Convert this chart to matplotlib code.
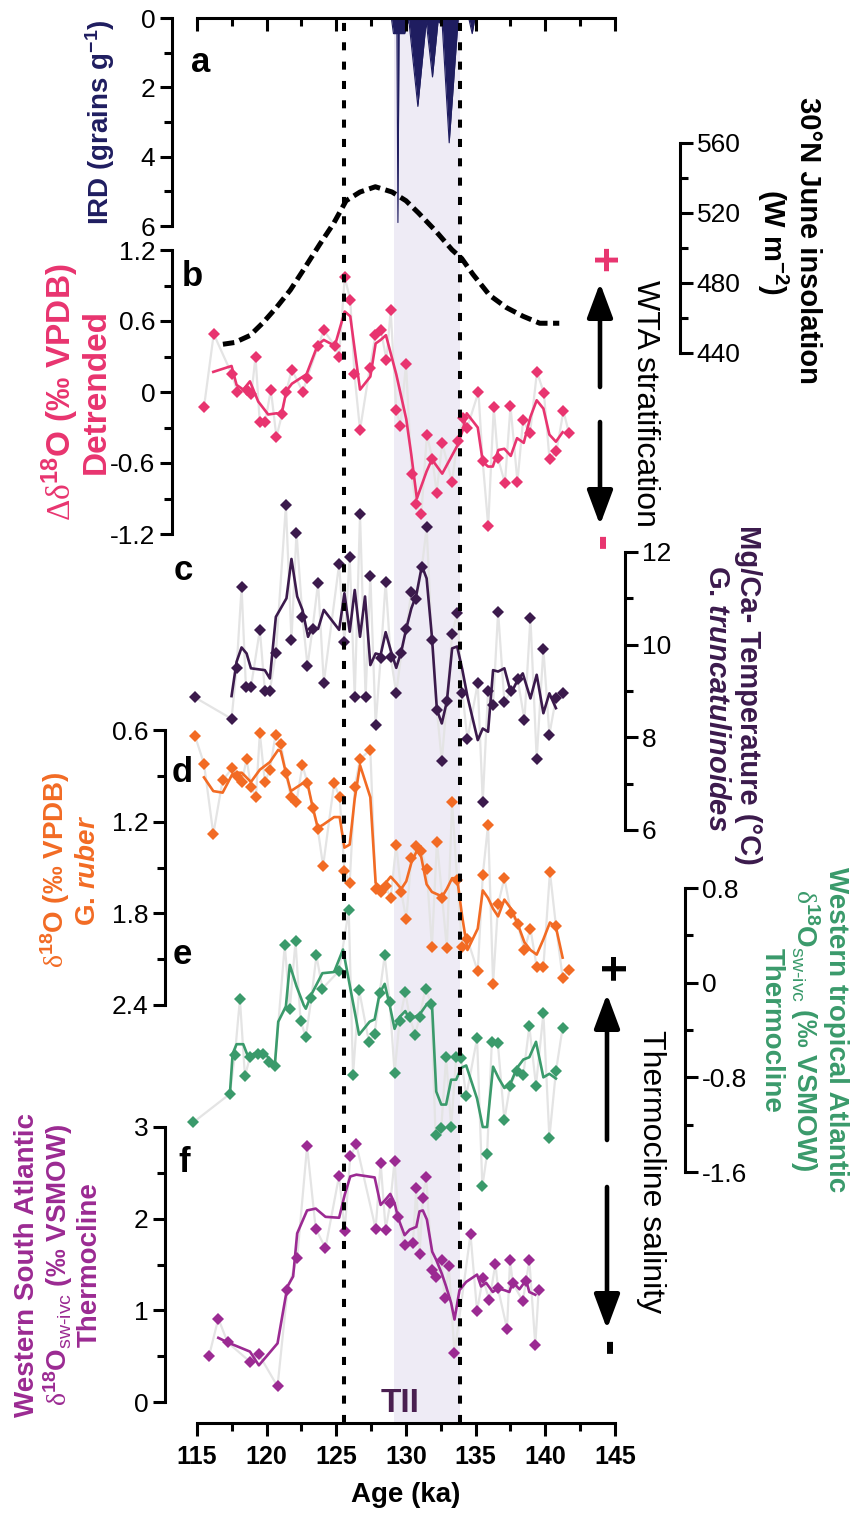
"""
Termination II multi-proxy stack (115-145 ka).

Panels a-f share one age axis. Every record gets its own transparent overlay
axes so its y scale can sit at its own height and on its own side.
"""

import matplotlib
matplotlib.use("Agg")
import matplotlib.pyplot as plt
from matplotlib.patches import FancyArrowPatch

plt.rcParams["font.family"] = ["Liberation Sans", "DejaVu Sans"]
plt.rcParams["mathtext.fontset"] = "custom"
plt.rcParams["mathtext.rm"] = "Liberation Sans"
plt.rcParams["mathtext.sf"] = "Liberation Serif"   # thin greek like the original
plt.rcParams["mathtext.it"] = "Liberation Sans:italic:bold"
plt.rcParams["mathtext.bf"] = "Liberation Sans:bold"
plt.rcParams["mathtext.default"] = "regular"
plt.rcParams["axes.unicode_minus"] = False

# ------------------------------------------------------------------ data

# a - IRD (grains g-1)
ird_age = [128.95, 129.1, 129.35, 129.42, 129.5, 129.9, 130.2, 130.85, 131.45,
           131.9, 132.3, 132.6, 133.1, 133.75, 134.5, 134.75, 134.95]
ird_val = [0, 0.45, 0.45, 5.9, 0.45, 0.45, 0.05, 2.55, 0.1,
           1.7, 0.1, 0.2, 3.6, 0.0, 0, 0.45, 0]

# 30N June insolation (W m-2)
ins_age = [116.86, 117.7, 118.8, 119.7, 120.7, 121.7, 122.6, 123.8, 124.8, 125.7,
           126.7, 127.8, 129.0, 130.0, 130.9, 132.1, 133.3, 134.0, 134.8, 136.0,
           137.2, 138.4, 139.6, 141.0]
ins_val = [445, 446, 450, 457, 466, 476, 487, 502, 514, 527,
           532, 535, 532, 527, 520, 510, 499, 494, 485, 473,
           466, 461, 457, 457]

# b - delta d18O detrended (per mil VPDB)
b_age = [115.5, 116.2, 117.5, 117.9, 118.6, 118.9, 119.2, 119.5, 119.9, 120.3,
         120.7, 121.1, 121.4, 121.8, 122.6, 122.9, 123.7, 124.1, 124.9, 125.2,
         125.6, 126.0, 126.3, 126.7, 127.4, 127.8, 128.2, 128.6, 128.9, 129.3,
         129.6, 130.0, 130.4, 130.7, 131.1, 131.5, 131.9, 132.2, 132.6, 133.3,
         133.7, 134.1, 134.4, 135.2, 135.5, 135.9, 136.3, 136.6, 137.1, 137.5,
         138.0, 138.4, 138.9, 139.4, 139.9, 140.3, 140.8, 141.3, 141.7]
b_val = [-0.13, 0.49, 0.15, 0.0, 0.02, -0.02, 0.30, -0.25, -0.25, 0.02,
         -0.38, -0.19, 0.0, 0.19, 0.0, 0.12, 0.39, 0.52, 0.39, 0.30,
         0.97, 0.78, 0.15, -0.32, 0.20, 0.48, 0.52, 0.27, 0.69, -0.15,
         -0.29, 0.24, -0.69, -0.95, -1.03, -0.36, -0.57, -0.85, -0.43, -0.76,
         -0.41, -0.22, -0.30, 0.0, -0.58, -1.13, -0.13, -0.56, -0.77, -0.12,
         -0.76, -0.24, -0.35, 0.17, -0.01, -0.57, -0.50, -0.16, -0.35]
b_sm_age = [116.17, 117.48, 117.84, 118.32, 118.8, 119.39, 120.11, 120.71, 121.06, 121.42,
            121.81, 122.86, 123.67, 124.1, 124.89, 125.6, 126.0, 126.7, 127.44, 127.82,
            128.18, 128.56, 129.3, 130.02, 130.38, 130.78, 131.48, 131.86, 132.6, 133.7,
            134.05, 134.36, 135.15, 135.51, 135.89, 136.23, 136.63, 137.06, 137.52, 137.97,
            138.45, 138.93, 139.38, 139.86, 140.29, 140.76, 141.24]
b_sm_val = [0.17, 0.22, 0.06, 0.02, 0.09, -0.08, -0.19, -0.18, -0.19, 0.01,
            0.07, 0.15, 0.40, 0.44, 0.39, 0.68, 0.64, 0.02, 0.13, 0.41,
            0.44, 0.48, 0.15, -0.23, -0.53, -0.90, -0.67, -0.57, -0.69, -0.45,
            -0.33, -0.18, -0.30, -0.59, -0.63, -0.63, -0.49, -0.48, -0.54, -0.39,
            -0.43, -0.21, -0.07, -0.14, -0.36, -0.42, -0.34]

# c - Mg/Ca temperature, G. truncatulinoides (degC)
c_age = [114.86, 117.48, 117.84, 118.2, 118.51, 118.87, 119.51, 119.87, 120.23, 120.66,
         121.38, 121.78, 122.14, 122.57, 122.93, 123.29, 123.69, 124.1, 125.2, 125.58,
         125.96, 126.32, 126.7, 127.1, 127.44, 127.82, 128.18, 128.54, 128.9, 129.3,
         129.66, 130.02, 130.38, 130.74, 131.14, 131.48, 131.86, 132.22, 132.57, 132.93,
         133.31, 133.67, 134.05, 134.41, 135.15, 135.51, 135.89, 136.25, 136.61, 137.06,
         137.54, 138.02, 138.5, 138.93, 139.38, 139.86, 140.29, 140.76, 141.24]
c_val = [8.86, 8.40, 9.49, 11.24, 9.08, 9.08, 10.32, 9.01, 9.01, 9.81,
         13.01, 10.10, 12.42, 10.60, 9.54, 10.34, 11.34, 9.18, 11.74, 10.05,
         11.9, 8.86, 12.81, 8.86, 11.49, 8.27, 9.71, 11.36, 9.74, 8.95,
         9.81, 10.34, 11.14, 10.98, 11.67, 12.53, 10.09, 8.58, 7.49, 8.79,
         10.23, 10.68, 8.95, 7.96, 9.17, 6.61, 9.01, 8.70, 10.71, 8.77,
         8.99, 9.25, 8.37, 10.58, 7.53, 9.91, 8.06, 8.84, 8.95]
c_sm_age = [117.48, 117.84, 118.2, 118.56, 118.87, 119.87, 120.23, 120.66, 121.42, 121.78,
            122.19, 122.57, 122.97, 123.29, 123.69, 124.1, 125.2, 125.58, 125.96, 126.32,
            126.7, 127.06, 127.44, 127.82, 128.18, 128.54, 128.9, 129.3, 129.66, 130.02,
            130.38, 130.74, 131.14, 131.48, 131.86, 132.22, 132.57, 132.93, 133.31, 133.67,
            134.05, 134.41, 135.15, 135.51, 135.89, 136.25, 136.61, 137.06, 137.54, 138.02,
            138.38, 138.93, 139.38, 139.86, 140.29, 140.76]
c_sm_val = [8.89, 9.63, 9.94, 9.81, 9.49, 9.45, 9.27, 10.6, 11.0, 11.85,
            11.04, 10.75, 10.17, 10.39, 10.34, 10.75, 10.32, 11.11, 10.28, 11.18,
            10.17, 11.04, 9.56, 9.81, 9.78, 10.27, 9.88, 9.50, 9.85, 10.35,
            10.78, 11.07, 11.70, 11.43, 10.17, 8.59, 8.30, 8.77, 9.92, 9.96,
            9.45, 8.88, 7.94, 8.19, 8.12, 9.45, 9.42, 9.49, 8.95, 9.24,
            9.38, 8.84, 9.35, 8.52, 8.95, 8.63]

# d - d18O G. ruber (per mil VPDB)
d_age = [114.86, 115.5, 116.17, 116.84, 117.53, 117.89, 118.22, 118.56, 118.87, 119.23,
         119.51, 119.87, 120.23, 120.64, 121.02, 121.38, 121.73, 122.14, 122.57, 122.93,
         123.29, 123.67, 124.05, 124.84, 125.24, 125.58, 125.96, 126.32, 126.7, 127.44,
         127.82, 128.18, 128.54, 128.9, 129.3, 129.66, 130.02, 130.38, 130.74, 131.09,
         131.48, 131.86, 132.22, 132.6, 132.93, 133.31, 133.67, 134.03, 134.41, 135.15,
         135.51, 135.89, 136.25, 136.61, 137.06, 137.54, 138.02, 138.5, 138.93, 139.38,
         139.86, 140.33, 140.76, 141.24, 141.67]
d_val = [0.64, 0.82, 1.28, 0.93, 0.85, 0.90, 0.94, 0.79, 0.97, 1.04,
         0.62, 0.94, 0.86, 0.63, 0.69, 0.88, 1.04, 1.07, 0.83, 0.95,
         1.11, 1.25, 1.49, 0.95, 1.04, 1.52, 1.60, 0.97, 0.79, 0.73,
         1.64, 1.66, 1.62, 1.70, 1.35, 1.66, 1.84, 1.44, 1.36, 1.39,
         1.51, 2.02, 1.33, 1.70, 2.03, 1.07, 1.58, 2.02, 1.97, 2.18,
         1.55, 1.22, 2.26, 1.74, 1.57, 1.80, 1.87, 2.04, 1.90, 2.15,
         2.15, 1.53, 1.88, 2.22, 2.17]
d_sm_age = [115.5, 116.17, 116.84, 117.53, 117.89, 118.22, 118.87, 119.51, 120.23, 120.83,
            121.02, 121.38, 121.73, 122.57, 122.93, 123.29, 123.67, 124.05, 124.84, 125.24,
            125.58, 125.96, 126.32, 126.7, 127.44, 127.82, 128.18, 128.54, 128.9, 129.3,
            129.66, 130.02, 130.38, 130.78, 131.09, 131.48, 131.86, 132.6, 132.93, 133.31,
            133.67, 134.03, 134.41, 135.15, 135.51, 135.89, 136.25, 136.61, 137.06, 137.54,
            138.02, 138.5, 138.93, 139.38, 139.86, 140.33, 140.76, 141.24]
d_sm_val = [0.91, 1.0, 1.01, 0.89, 0.88, 0.88, 0.94, 0.86, 0.81, 0.73,
            0.74, 0.88, 1.0, 0.95, 0.95, 1.10, 1.24, 1.22, 1.17, 1.17,
            1.37, 1.35, 1.05, 0.83, 1.04, 1.60, 1.63, 1.60, 1.56, 1.60,
            1.64, 1.59, 1.47, 1.39, 1.43, 1.61, 1.66, 1.69, 1.64, 1.57,
            1.57, 1.82, 2.04, 1.90, 1.65, 1.70, 1.77, 1.82, 1.71, 1.77,
            1.87, 1.99, 2.04, 2.07, 1.97, 1.86, 1.89, 2.09]

# e - western tropical Atlantic thermocline d18Osw-ivc (per mil VSMOW)
e_age = [114.74, 117.36, 117.72, 118.08, 118.44, 118.8, 119.39, 119.75, 120.18, 120.59,
         121.3, 121.66, 122.07, 122.43, 122.81, 123.21, 123.57, 124.0, 125.2, 125.89,
         126.2, 126.63, 127.34, 127.75, 128.11, 128.47, 128.83, 129.18, 129.54, 129.95,
         130.26, 130.66, 130.97, 131.4, 131.81, 132.12, 132.53, 132.88, 133.24, 133.6,
         133.96, 134.32, 135.1, 135.48, 135.82, 136.16, 136.59, 137.06, 137.47, 137.97,
         138.42, 138.85, 139.33, 139.86, 140.29, 140.76, 141.24]
e_val = [-1.18, -0.94, -0.61, -0.14, -0.79, -0.63, -0.60, -0.60, -0.67, -0.70,
         0.32, -0.22, 0.35, -0.32, -0.46, -0.13, 0.23, -0.05, 0.10, 0.61,
         -0.78, -0.06, -0.50, -0.43, -0.09, 0.23, -0.16, -0.76, -0.32, -0.08,
         -0.29, -0.44, -0.29, -0.05, -0.18, -1.29, -1.23, -0.63, -1.22, -0.63,
         -0.64, -0.96, -0.47, -1.72, -1.45, -0.50, -0.51, -1.16, -0.87, -0.75,
         -0.78, -0.37, -0.87, -0.26, -1.31, -0.75, -0.38]
e_sm_age = [117.36, 117.56, 117.84, 118.32, 118.68, 119.08, 119.75, 120.23, 120.59, 120.83,
            121.38, 121.66, 122.14, 122.66, 122.81, 123.21, 124.0, 124.84, 125.48, 125.96,
            126.63, 127.39, 127.75, 128.11, 128.47, 128.83, 129.18, 129.54, 129.95, 130.26,
            130.62, 130.97, 131.45, 131.86, 132.17, 132.53, 132.88, 133.24, 133.6, 133.96,
            134.32, 135.1, 135.51, 135.82, 136.25, 136.66, 137.06, 137.47, 137.97, 138.42,
            138.85, 139.33, 139.86, 140.29, 140.76]
e_sm_val = [-0.94, -0.60, -0.52, -0.52, -0.63, -0.60, -0.58, -0.65, -0.69, -0.33,
            -0.20, 0.15, -0.03, -0.19, -0.22, -0.10, 0.08, 0.09, 0.28, -0.02,
            -0.44, -0.33, -0.31, -0.09, -0.01, -0.19, -0.39, -0.29, -0.24, -0.31,
            -0.29, -0.27, -0.19, -0.17, -0.92, -1.03, -1.03, -0.82, -0.82, -0.72,
            -0.70, -0.98, -1.22, -1.22, -0.71, -0.81, -0.89, -0.86, -0.72, -0.65,
            -0.63, -0.50, -0.80, -0.77, -0.81]

# f - western South Atlantic thermocline d18Osw-ivc (per mil VSMOW)
f_age = [115.86, 116.53, 117.2, 118.8, 119.44, 120.78, 121.49, 122.19, 122.9, 123.52,
         124.22, 125.2, 125.6, 126.0, 126.44, 127.82, 128.18, 128.54, 128.87, 129.18,
         129.45, 129.9, 130.5, 130.74, 130.97, 131.21, 131.45, 131.88, 132.12, 132.55,
         132.77, 133.07, 133.48, 134.63, 135.1, 135.51, 135.99, 136.42, 136.6, 137.25,
         137.47, 137.66, 138.38, 138.62, 138.85, 139.28, 139.52]
f_val = [0.50, 0.91, 0.65, 0.44, 0.52, 0.17, 1.22, 1.57, 2.79, 1.89,
         1.68, 2.47, 1.87, 2.68, 2.81, 1.89, 2.61, 1.88, 2.17, 2.63,
         2.02, 1.71, 1.73, 2.34, 1.61, 2.23, 2.46, 1.44, 1.36, 1.55,
         1.13, 1.48, 0.53, 1.83, 0.99, 1.35, 1.11, 1.51, 1.24, 0.80,
         1.55, 1.30, 1.10, 1.32, 1.55, 0.62, 1.22]
f_sm_age = [116.53, 117.2, 118.8, 119.44, 120.78, 121.49, 121.9, 122.19, 122.9, 123.52,
            124.22, 125.2, 125.6, 126.0, 126.44, 127.75, 128.18, 128.54, 128.87, 129.18,
            129.45, 129.9, 130.26, 130.74, 130.97, 131.21, 131.5, 131.88, 132.17, 132.57,
            132.88, 133.24, 133.48, 133.84, 134.32, 135.1, 135.39, 135.75, 136.23, 136.59,
            137.06, 137.42, 137.66, 138.14, 138.62, 138.85, 139.28]
f_sm_val = [0.70, 0.65, 0.55, 0.40, 0.64, 1.26, 1.37, 1.84, 2.09, 2.11,
            2.02, 2.01, 2.26, 2.46, 2.48, 2.45, 2.15, 2.21, 2.27, 2.17,
            2.0, 1.82, 1.88, 1.91, 2.08, 2.09, 1.99, 1.64, 1.55, 1.40,
            1.26, 1.08, 0.90, 1.22, 1.31, 1.39, 1.26, 1.30, 1.20, 1.24,
            1.22, 1.20, 1.31, 1.23, 1.33, 1.20, 1.17]

# tick values / labels for every scale
age_ticks = [115, 120, 125, 130, 135, 140, 145]
age_labels = ["115", "120", "125", "130", "135", "140", "145"]
ird_ticks, ird_labels = [0, 2, 4, 6], ["0", "2", "4", "6"]
b_ticks, b_labels = [1.2, 0.6, 0, -0.6, -1.2], ["1.2", "0.6", "0", "-0.6", "-1.2"]
ins_ticks, ins_labels = [560, 520, 480, 440], ["560", "520", "480", "440"]
c_ticks, c_labels = [12, 10, 8, 6], ["12", "10", "8", "6"]
d_ticks, d_labels = [0.6, 1.2, 1.8, 2.4], ["0.6", "1.2", "1.8", "2.4"]
e_ticks, e_labels = [0.8, 0, -0.8, -1.6], ["0.8", "0", "-0.8", "-1.6"]
f_ticks, f_labels = [3, 2, 1, 0], ["3", "2", "1", "0"]

# event markers (ka)
dash_ages = [125.55, 133.9]
tii_start, tii_end = 129.13, 133.9

# ------------------------------------------------------------------ style / layout

NAVY = "#1f1d60"
PINK = "#e8346f"
PLUM = "#3b1a4c"
ORANGE = "#f26b24"
GREEN = "#3a9a6b"
MAGENTA = "#9b2a92"
GREY = "#e4e4e4"
BAND = "#eeebf5"
TII_COLOR = "#4a1f50"

W, H = 850, 1524            # figure size in pixels
X_LEFT, X_RIGHT = 197, 615  # plot box in pixels
Y_TOP, Y_BOTTOM = 18, 1423
LW = 2.2


def fx(px):
    return px / W


def fy(py):
    return 1 - py / H


RECT = [fx(X_LEFT), fy(Y_BOTTOM), fx(X_RIGHT) - fx(X_LEFT), fy(Y_TOP) - fy(Y_BOTTOM)]


def overlay(fig):
    ax = fig.add_axes(RECT, facecolor="none")
    ax.set_xlim(115, 145)
    for s in ax.spines.values():
        s.set_visible(False)
    return ax


def scale_axes(fig, side, offset_px, ref, ticks, labels, minor):
    """Overlay axes whose y scale puts ref value pairs at given pixel rows."""
    (v1, p1), (v2, p2) = ref
    k = (v2 - v1) / (p2 - p1)
    ax = overlay(fig)
    ax.set_ylim(v1 + (Y_BOTTOM - p1) * k, v1 + (Y_TOP - p1) * k)
    ax.xaxis.set_visible(False)
    sp = ax.spines[side]
    sp.set_visible(True)
    sp.set_linewidth(LW)
    sp.set_position(("outward", offset_px * 0.72))
    sp.set_bounds(min(v1, v2), max(v1, v2))
    if side == "right":
        ax.yaxis.tick_right()
    else:
        ax.yaxis.tick_left()
    ax.set_yticks(ticks, labels)
    ax.set_yticks(minor, minor=True)
    ax.tick_params(axis="y", which="major", direction="out", length=9, width=LW,
                   labelsize=19, pad=3)
    ax.tick_params(axis="y", which="minor", direction="out", length=5.5, width=LW)
    return ax


def plot_record(ax, age, val, sm_age, sm_val, color):
    ax.plot(age, val, color=GREY, lw=1.6, zorder=1, clip_on=False)
    ax.plot(age, val, ls="none", marker="D", ms=6.5, mfc=color, mew=0, zorder=2,
            clip_on=False)
    ax.plot(sm_age, sm_val, color=color, lw=1.9, zorder=3, clip_on=False)


def label(fig, x, y, text, color, rot, size=20, weight="bold"):
    fig.text(fx(x), fy(y), text, color=color, rotation=rot, ha="center",
             va="center", fontsize=size, fontweight=weight)


def arrow(fig, x, y_from, y_to):
    fig.patches.append(FancyArrowPatch(
        (fx(x), fy(y_from)), (fx(x), fy(y_to)), transform=fig.transFigure,
        arrowstyle="-|>,head_length=0.75,head_width=0.28", mutation_scale=28,
        lw=3.3, color="black", shrinkA=0, shrinkB=0))


def main():
    fig = plt.figure(figsize=(W / 100, H / 100), dpi=100)

    # base: shading + bottom age axis
    base = overlay(fig)
    base.set_ylim(0, 1)
    base.set_yticks([])
    base.axvspan(tii_start, tii_end, color=BAND, lw=0, zorder=0)
    base.spines["bottom"].set_visible(True)
    base.spines["bottom"].set_linewidth(LW)
    base.set_xticks(age_ticks, age_labels, fontweight="bold", fontsize=18)
    base.set_xticks([117.5, 122.5, 127.5, 132.5, 137.5, 142.5], minor=True)
    base.tick_params(axis="x", which="major", direction="out", length=9.5, width=LW, pad=6)
    base.tick_params(axis="x", which="minor", direction="out", length=5.5, width=LW)
    base.set_xlabel("Age (ka)", fontsize=20, fontweight="bold", labelpad=10)

    # a - IRD
    ax_a = scale_axes(fig, "left", X_LEFT - 172, ((0, 18), (6, 226)),
                      ird_ticks, ird_labels, [1, 3, 5])
    ax_a.fill_between(ird_age, 0, ird_val, color=NAVY, lw=0)
    ax_a.plot(ird_age, ird_val, color=NAVY, lw=0.8)

    # insolation
    ax_i = scale_axes(fig, "right", 680 - X_RIGHT, ((560, 143), (440, 353)),
                      ins_ticks, ins_labels, [540, 500, 460])
    ax_i.plot(ins_age, ins_val, color="black", lw=3.6, dashes=(2.3, 1.1))

    # b
    ax_b = scale_axes(fig, "left", X_LEFT - 172, ((1.2, 250), (-1.2, 534)),
                      b_ticks, b_labels, [0.9, 0.3, -0.3, -0.9])
    plot_record(ax_b, b_age, b_val, b_sm_age, b_sm_val, PINK)

    # c
    ax_c = scale_axes(fig, "right", 625 - X_RIGHT, ((12, 552), (6, 830)),
                      c_ticks, c_labels, [11, 9, 7])
    plot_record(ax_c, c_age, c_val, c_sm_age, c_sm_val, PLUM)

    # d
    ax_d = scale_axes(fig, "left", X_LEFT - 165, ((0.6, 730), (2.4, 1005)),
                      d_ticks, d_labels, [0.9, 1.5, 2.1])
    plot_record(ax_d, d_age, d_val, d_sm_age, d_sm_val, ORANGE)

    # e
    ax_e = scale_axes(fig, "right", 685 - X_RIGHT, ((0.8, 888), (-1.6, 1172)),
                      e_ticks, e_labels, [0.4, -0.4, -1.2])
    plot_record(ax_e, e_age, e_val, e_sm_age, e_sm_val, GREEN)

    # f
    ax_f = scale_axes(fig, "left", X_LEFT - 165, ((3, 1127), (0, 1402)),
                      f_ticks, f_labels, [2.5, 1.5, 0.5])
    plot_record(ax_f, f_age, f_val, f_sm_age, f_sm_val, MAGENTA)

    # top axis, event lines, TII
    top = overlay(fig)
    top.set_ylim(0, 1)
    top.set_yticks([])
    top.spines["top"].set_visible(True)
    top.spines["top"].set_linewidth(LW)
    top.xaxis.tick_top()
    top.set_xticks(age_ticks)
    top.set_xticks([117.5, 122.5, 127.5, 132.5, 137.5, 142.5], minor=True)
    top.tick_params(axis="x", which="both", labeltop=False, labelbottom=False,
                    direction="in", width=LW)
    top.tick_params(axis="x", which="major", length=9.5)
    top.tick_params(axis="x", which="minor", length=5.5)
    for a in dash_ages:
        top.axvline(a, color="black", lw=2.9, dashes=(2.0, 2.8))
    top.text(129.55, (Y_BOTTOM - 1403) / (Y_BOTTOM - Y_TOP), "TII", color=TII_COLOR,
             fontsize=24, fontweight="bold", ha="center", va="center")

    # panel letters
    for letter, x, y in [("a", 201, 63), ("b", 192, 277), ("c", 183, 570),
                         ("d", 182, 773), ("e", 182, 955), ("f", 184, 1162)]:
        fig.text(fx(x), fy(y), letter, fontsize=25, fontweight="bold",
                 ha="center", va="center")

    # left axis titles
    label(fig, 100, 122, "IRD (grains g$^{-1}$)", NAVY, 90)
    label(fig, 60, 392, "$\\mathsf{\u0394\u03b4}^{18}$O (\u2030 VPDB)", PINK, 90, size=24)
    label(fig, 96, 392, "Detrended", PINK, 90, size=24)
    label(fig, 55, 870, "$\\mathsf{\u03b4}^{18}$O (\u2030 VPDB)", ORANGE, 90)
    label(fig, 88, 870, "G. $\\mathit{ruber}$", ORANGE, 90)
    label(fig, 27, 1265, "Western South Atlantic", MAGENTA, 90)
    label(fig, 58, 1265, "$\\mathsf{\u03b4}^{18}$O$_{\\text{sw-ivc}}$ (\u2030 VSMOW)", MAGENTA, 90)
    label(fig, 90, 1265, "Thermocline", MAGENTA, 90)

    # right axis titles
    label(fig, 808, 240, "30\u00b0N June insolation", "black", 270, size=21)
    label(fig, 773, 242, "(W m$^{-2}$)", "black", 270, size=21)
    label(fig, 748, 695, "Mg/Ca- Temperature (\u00b0C)", PLUM, 270, size=21)
    label(fig, 717, 698, "G. $\\mathit{truncatulinoides}$", PLUM, 270, size=21)
    label(fig, 836, 1030, "Western tropical Atlantic", GREEN, 270)
    label(fig, 805, 1030, "$\\mathsf{\u03b4}^{18}$O$_{\\text{sw-ivc}}$ (\u2030 VSMOW)", GREEN, 270)
    label(fig, 772, 1030, "Thermocline", GREEN, 270)

    # stratification / salinity annotations
    label(fig, 600, 260, "+", PINK, 270, size=32)
    arrow(fig, 600, 387, 283)
    arrow(fig, 600, 422, 525)
    label(fig, 600, 543, "-", PINK, 270, size=34)
    label(fig, 645, 403, "WTA stratification", "black", 270, size=23, weight="normal")

    label(fig, 607, 970, "+", "black", 270, size=34)
    arrow(fig, 607, 1140, 994)
    arrow(fig, 607, 1187, 1329)
    label(fig, 607, 1348, "-", "black", 270, size=34)
    label(fig, 651, 1172, "Thermocline salinity", "black", 270, size=23, weight="normal")

    fig.savefig("out.png", dpi=100)


if __name__ == "__main__":
    main()
